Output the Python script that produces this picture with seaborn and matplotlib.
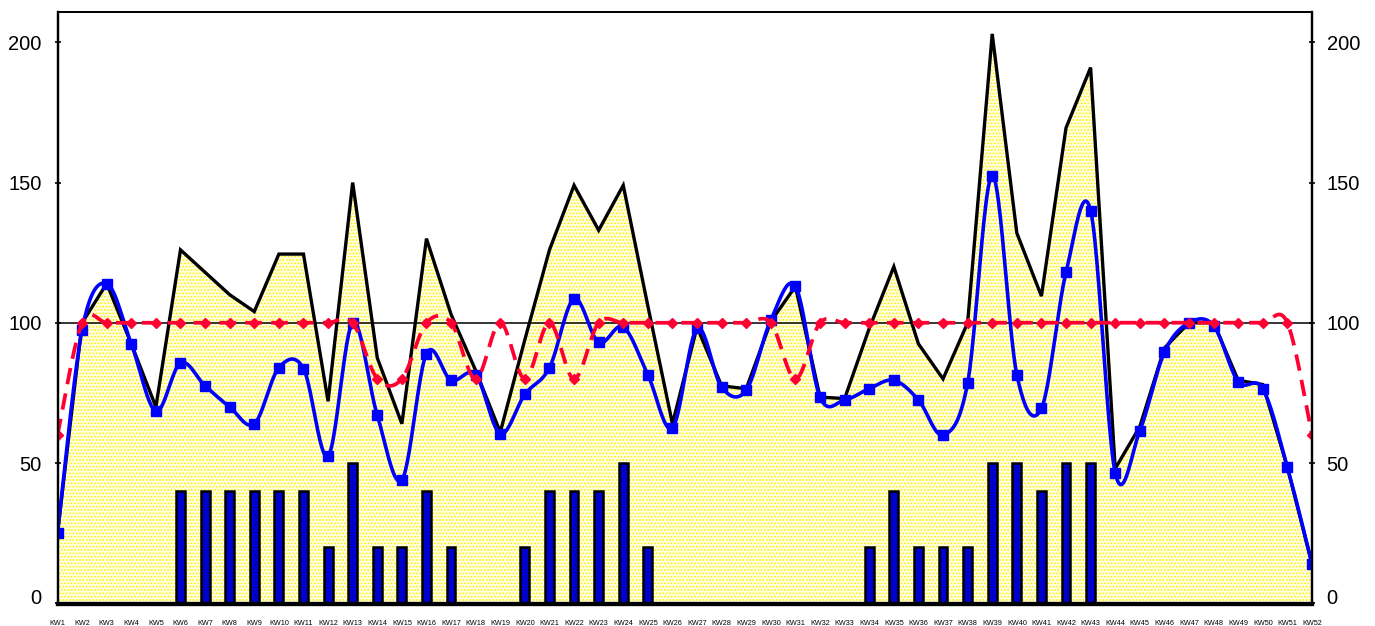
import numpy as np
import matplotlib
matplotlib.use("Agg")
import matplotlib.pyplot as plt
import matplotlib.transforms as mtransforms
import seaborn as sns

# Calendar weeks
weeks = [f"KW{i}" for i in range(1, 53)]

# Total volume per week (yellow area, black outline)
total = [25, 100, 114, 92.5, 70, 126, 118, 110, 104, 124.5,
         124.5, 72, 150, 87.5, 64, 130, 103, 83, 61, 94,
         126, 149, 133, 149, 106, 64, 98.5, 77.5, 76.5, 100.5,
         113, 73.5, 73, 98, 120, 92.5, 80, 100, 203, 132,
         109.5, 169.5, 191, 48, 63, 91, 100, 100, 79.5, 78,
         48.5, 14]

# Actual values (blue smoothed line)
actual = [25, 97.5, 114, 92.5, 68.5, 85.7, 77.5, 70, 64, 84,
          83.7, 52.5, 100, 67, 44, 89, 79.5, 81.5, 60.5, 74.5,
          84, 108.5, 93, 98.5, 81.5, 62.5, 98, 77, 76, 101,
          113, 73.5, 72.5, 76.5, 79.5, 72.5, 60, 78.5, 152.5, 81.5,
          69.5, 118, 140, 46.5, 61.5, 89.5, 100, 99, 79, 76.5,
          48.5, 14]

# Target level (red dashed line)
target = [60, 100, 100, 100, 100, 100, 100, 100, 100, 100,
          100, 100, 100, 80, 80, 100, 100, 80, 100, 80,
          100, 80, 100, 100, 100, 100, 100, 100, 100, 100,
          80, 100, 100, 100, 100, 100, 100, 100, 100, 100,
          100, 100, 100, 100, 100, 100, 100, 100, 100, 100,
          100, 60]

# Orders per week (blue bars, secondary scale)
orders = [0, 0, 0, 0, 0, 40, 40, 40, 40, 40,
          40, 20, 50, 20, 20, 40, 20, 0, 0, 20,
          40, 40, 40, 50, 20, 0, 0, 0, 0, 0,
          0, 0, 0, 20, 40, 20, 20, 20, 50, 50,
          40, 50, 50, 0, 0, 0, 0, 0, 0, 0,
          0, 0]

y_ticks = [0, 50, 100, 150, 200]


def smooth(values, n=24):
    """Bezier smoothing through every point (Catmull-Rom style)."""
    y = np.asarray(values, float)
    p = np.column_stack([np.arange(len(y), dtype=float), y])
    pp = np.vstack([p[0], p, p[-1]])
    t = np.linspace(0, 1, n, endpoint=False)[:, None]
    parts = []
    for i in range(len(p) - 1):
        p0, p1 = pp[i + 1], pp[i + 2]
        c1 = p0 + (pp[i + 2] - pp[i]) / 6.0
        c2 = p1 - (pp[i + 3] - pp[i + 1]) / 6.0
        parts.append((1 - t) ** 3 * p0 + 3 * (1 - t) ** 2 * t * c1
                     + 3 * (1 - t) * t ** 2 * c2 + t ** 3 * p1)
    parts.append(p[-1][None, :])
    out = np.vstack(parts)
    return out[:, 0], out[:, 1]


sns.set_theme(style="white")
plt.rcParams["font.family"] = ["Liberation Sans", "DejaVu Sans"]
plt.rcParams["hatch.linewidth"] = 0.8

fig = plt.figure(figsize=(13.75, 6.26), dpi=100)
ax = fig.add_axes([0.04182, 0.03435, 0.91236, 0.94648])
ylo, yhi = -0.43, 210.8

x = np.arange(len(weeks))

# dotted yellow area
ax.fill_between(x, total, 0, facecolor="#FFFFE6", edgecolor="#FFF200",
                hatch=".....", linewidth=0, zorder=1)

# reference line at 100
ax.axhline(100, color="black", lw=1.1, zorder=1.5)

# order bars
sns.barplot(x=x, y=orders, ax=ax, native_scale=True, color="#0000CC",
            saturation=1, width=0.36, edgecolor="black", linewidth=1.8,
            zorder=2)

# outline of the total
ax.plot(x, total, color="black", lw=2.4, zorder=3, solid_joinstyle="miter")

# actual, smoothed
sx, sy = smooth(actual)
ax.plot(sx, sy, color="#0000FF", lw=2.6, zorder=4)
ax.plot(x, actual, ls="none", marker="s", ms=6.5, color="#0000FF",
        mec="#0000FF", zorder=4.5)

# target, smoothed dashed
tx, ty = smooth(target)
ax.plot(tx, ty, color="#FF0033", lw=2.7, ls=(0, (4.4, 2.5)), zorder=5)
ax.plot(x, target, ls="none", marker="D", ms=5.5, color="#FF0033",
        mec="#FF0033", zorder=5.5)

ax.set_xlim(0, len(weeks) - 1)
ax.set_ylim(ylo, yhi)
ax.set_xlabel("")
ax.set_ylabel("")
ax.set_xticks(x)
ax.set_xticklabels(weeks, fontsize=5.2, color="black")
ax.set_yticks(y_ticks)
ax.set_yticklabels([str(v) for v in y_ticks])
ax.tick_params(axis="x", direction="in", length=3, width=0.8,
               color="black", pad=11.5)
ax.tick_params(axis="y", direction="inout", length=5, width=1.2,
               color="black", labelsize=14.5, labelcolor="black", pad=9)

ax2 = ax.twinx()
ax2.set_ylim(ylo, yhi)
ax2.set_yticks(y_ticks)
ax2.set_yticklabels([str(v) for v in y_ticks])
ax2.tick_params(axis="y", direction="inout", length=5, width=1.2,
                color="black", labelsize=14.5, labelcolor="black", pad=8)
ax2.grid(False)
ax.grid(False)

for a in (ax, ax2):
    for side, lw in (("left", 1.6), ("right", 1.6), ("top", 1.3),
                     ("bottom", 3.0)):
        a.spines[side].set_color("black")
        a.spines[side].set_linewidth(lw)
        a.spines[side].set_visible(True)

# lift the zero labels slightly off the base line
lift = mtransforms.ScaledTranslation(0, 7 / 100, fig.dpi_scale_trans)
t0 = ax.yaxis.get_major_ticks()[0]
t0.label1.set_transform(t0.label1.get_transform() + lift)
t1 = ax2.yaxis.get_major_ticks()[0]
t1.label2.set_transform(t1.label2.get_transform() + lift)

fig.savefig("out.png", dpi=100)
